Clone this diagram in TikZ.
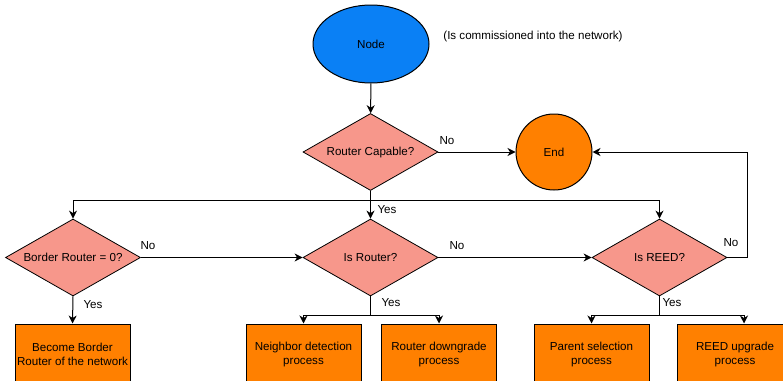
\documentclass[tikz,border=0pt]{standalone}
\usepackage{fontspec}
\setmainfont{Liberation Sans}
\usetikzlibrary{shapes.geometric,arrows.meta}
\definecolor{nodeblue}{HTML}{0A80F5}
\definecolor{decisionpink}{HTML}{F7978B}
\definecolor{procorange}{HTML}{FF8000}
\tikzset{
  every node/.style={font=\fontsize{11.6}{14}\selectfont},
  startnode/.style={ellipse, draw=black, line width=1pt, fill=nodeblue,
    minimum width=116pt, minimum height=78pt, inner sep=0pt},
  endnode/.style={circle, draw=black, line width=1pt, fill=procorange,
    minimum size=76pt, inner sep=0pt},
  decision/.style={diamond, aspect=1.75, draw=black, line width=0.8pt,
    fill=decisionpink, minimum width=135pt, minimum height=77pt, inner sep=0pt},
  procbox/.style={rectangle, draw=black, line width=1pt, fill=procorange,
    minimum width=115pt, minimum height=60pt, align=center, inner sep=0pt},
  flow/.style={draw=black, line width=1pt,
    -{Stealth[length=8pt, width=8pt, inset=2.5pt]}},
  link/.style={draw=black, line width=1pt},
  tag/.style={inner sep=0pt},
}
\begin{document}
\begin{tikzpicture}[x=1pt, y=-1pt]
\useasboundingbox (0,0) rectangle (783,380);
\clip (0,0) rectangle (783,380);

% start, end and decisions
\node[startnode] (start) at (371,44) {Node};
\node[tag] (note) at (533,36) {(Is commissioned into the network)};
\node[decision] (rcap) at (370.5,152) {Router Capable?};
\node[endnode] (done) at (554,152) {End};
\node[decision] (border) at (73,257.5) {Border Router = 0?};
\node[decision] (isrouter) at (370.5,257.5) {Is Router?};
\node[decision] (isreed) at (659.5,257.5) {Is REED?};

% processes (open at the bottom edge)
\node[procbox] (becomebr) at (72.5,354) {Become Border\\Router of the network};
\node[procbox] (neighbor) at (303.5,354) {Neighbor detection\\process};
\node[procbox] (downgrade) at (439,354) {Router downgrade\\process};
\node[procbox] (parent) at (591.5,354) {Parent selection\\process};
\node[procbox] (upgrade) at (735,354) {REED upgrade\\process};

% branch points
\coordinate (capsplit) at (370.5,200);
\coordinate (routersplit) at (370.5,315);
\coordinate (reedsplit) at (659.5,315);
\coordinate (reedloop) at (747,257.5);

% connectors
\draw[flow] (start) -- (rcap);
\draw[flow] (rcap.east) -- (done.west);
\draw[link] (rcap.south) -- (capsplit);
\draw[flow] (capsplit) -| (border.north);
\draw[flow] (capsplit) -- (isrouter.north);
\draw[flow] (capsplit) -| (isreed.north);
\draw[flow] (border.east) -- (isrouter.west);
\draw[flow] (isrouter.east) -- (isreed.west);
\draw[flow] (isreed.east) -- (reedloop) |- (done.east);
\draw[flow] (border.south) -- (becomebr.north);
\draw[link] (isrouter.south) -- (routersplit);
\draw[flow] (routersplit) -| (neighbor.north);
\draw[flow] (routersplit) -| (downgrade.north);
\draw[link] (isreed.south) -- (reedsplit);
\draw[flow] (reedsplit) -| (parent.north);
\draw[flow] (reedsplit) -| ([xshift=9pt]upgrade.north);

% branch labels
\node[tag] (capno) at (447,141) {No};
\node[tag] (capyes) at (387,210) {Yes};
\node[tag] (borderno) at (148,246) {No};
\node[tag] (borderyes) at (93,305) {Yes};
\node[tag] (routerno) at (457,246) {No};
\node[tag] (routeryes) at (391,303) {Yes};
\node[tag] (reedno) at (731,243) {No};
\node[tag] (reedyes) at (672,303) {Yes};
\end{tikzpicture}
\end{document}
